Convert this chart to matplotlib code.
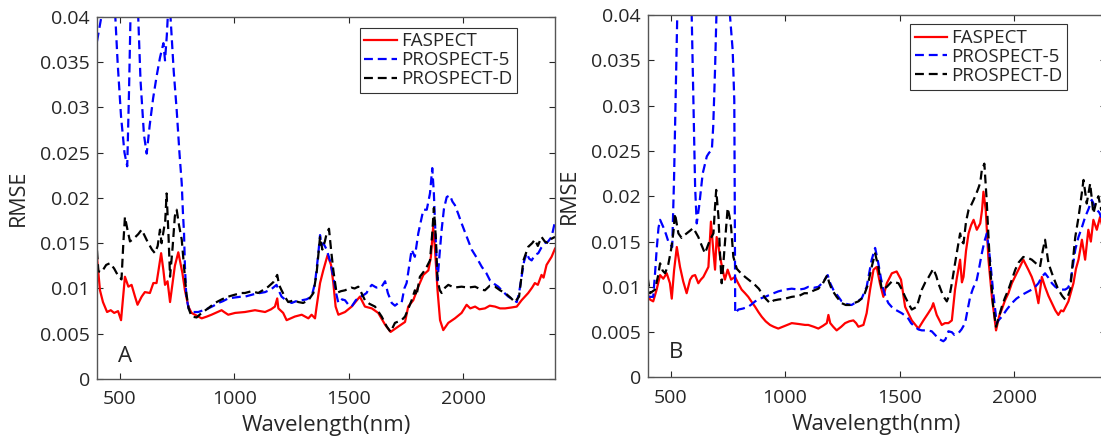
import matplotlib
matplotlib.use("Agg")
import matplotlib.pyplot as plt

plt.rcParams['font.family'] = ['Open Sans', 'DejaVu Sans']

# ---- panel A data (wavelength nm, RMSE) ----
a_fas_wl = [400, 413, 426, 444, 460, 475, 492, 505, 522, 537, 551, 566, 577, 595, 609, 631, 646, 660, 668, 680,
            690, 697, 708, 719, 740, 755, 773, 784, 799, 813, 828, 857, 880, 900, 944, 955, 973, 1003, 1046, 1090,
            1134, 1160, 1177, 1187, 1192, 1213, 1228, 1264, 1294, 1323, 1337, 1352, 1359, 1374, 1388, 1407, 1422,
            1432, 1442, 1454, 1483, 1512, 1548, 1570, 1600, 1628, 1658, 1682, 1716, 1745, 1759, 1781, 1803, 1825,
            1847, 1858, 1868, 1876, 1887, 1898, 1912, 1934, 1963, 1992, 2014, 2030, 2051, 2070, 2094, 2115, 2138,
            2160, 2182, 2210, 2233, 2254, 2283, 2300, 2312, 2325, 2341, 2350, 2363, 2385, 2400]
a_fas = [.0134, .0098, .0085, .0074, .0076, .0073, .0075, .0065, .0113, .0102, .0104, .0091, .0082, .0091, .0096,
         .0095, .0106, .0106, .0119, .0139, .012, .0104, .0108, .0085, .0125, .014, .0117, .0098, .008, .0073,
         .0071, .0067, .0069, .0071, .0076, .0074, .0071, .0073, .0074, .0076, .0074, .0077, .008, .0089, .0078,
         .0073, .0065, .0069, .0071, .0067, .0071, .0067, .008, .0106, .012, .0137, .0126, .0106, .008, .0071,
         .0074, .008, .0091, .008, .0078, .0073, .006, .0052, .0058, .0063, .008, .0087, .0102, .0115, .012,
         .0135, .0168, .0143, .0098, .0065, .0054, .0062, .0067, .0073, .0082, .0078, .008, .0077, .0078, .0081,
         .008, .0078, .0078, .0079, .008, .0087, .0095, .0101, .0106, .0104, .0115, .0112, .0126, .0135, .0144]

a_p5_wl = [400, 412, 426, 440, 460, 478, 490, 505, 520, 532, 540, 547, 560, 575, 580, 590, 605, 617, 630, 645,
           660, 675, 690, 697, 705, 711, 716, 721, 735, 748, 760, 770, 775, 780, 784, 790, 800, 813, 842, 865,
           886, 910, 930, 950, 973, 1000, 1031, 1046, 1090, 1134, 1160, 1184, 1195, 1206, 1225, 1250, 1270, 1294,
           1315, 1337, 1352, 1365, 1374, 1380, 1388, 1403, 1417, 1432, 1444, 1454, 1470, 1483, 1498, 1512, 1530,
           1548, 1560, 1577, 1590, 1600, 1620, 1643, 1658, 1670, 1687, 1701, 1716, 1730, 1742, 1752, 1765, 1774,
           1788, 1803, 1815, 1825, 1840, 1854, 1864, 1871, 1879, 1887, 1895, 1905, 1915, 1927, 1941, 1952, 1963,
           1978, 1992, 2010, 2036, 2058, 2080, 2100, 2116, 2135, 2152, 2175, 2196, 2215, 2233, 2243, 2254, 2265,
           2276, 2287, 2298, 2312, 2327, 2340, 2356, 2370, 2385, 2400]
a_p5 = [.0373, .039, .041, .045, .045, .041, .035, .029, .025, .0235, .032, .041, .046, .044, .04, .033, .027,
        .0249, .028, .031, .0334, .0355, .0371, .0352, .038, .041, .042, .04, .034, .0297, .025, .0216, .0185,
        .0161, .0124, .0091, .0078, .0074, .0074, .0076, .0078, .0081, .0084, .0086, .0089, .009, .0091, .0091,
        .0094, .0096, .0099, .0104, .0097, .0091, .0087, .0084, .0086, .0087, .0088, .0091, .0106, .0135, .0159,
        .0148, .015, .0143, .0131, .0113, .0095, .0084, .0088, .0087, .0082, .008, .0087, .0091, .0092, .0095,
        .0101, .0104, .0101, .0102, .0108, .0095, .0084, .0081, .0084, .0084, .01, .0106, .0128, .0143, .0135,
        .0161, .0175, .0187, .0187, .0205, .0233, .0205, .0154, .0109, .0135, .0165, .0188, .0201, .0203, .0196,
        .0192, .0182, .0172, .016, .0143, .0134, .0124, .0117, .0109, .0105, .0102, .0096, .0091, .0088, .0085,
        .0095, .0113, .013, .0139, .0133, .0131, .0137, .0139, .0145, .015, .0152, .0157, .0174]

a_pd_wl = [400, 406, 420, 440, 457, 475, 490, 507, 515, 522, 533, 544, 560, 580, 595, 620, 640, 653, 665, 675,
           682, 689, 698, 704, 712, 719, 730, 740, 748, 758, 770, 780, 790, 800, 813, 835, 857, 885, 915, 945,
           973, 1000, 1031, 1046, 1075, 1104, 1130, 1148, 1170, 1187, 1195, 1206, 1220, 1235, 1260, 1279, 1300,
           1323, 1345, 1359, 1374, 1384, 1395, 1403, 1413, 1422, 1432, 1446, 1465, 1483, 1510, 1525, 1541, 1555,
           1570, 1590, 1614, 1643, 1665, 1682, 1701, 1730, 1745, 1760, 1774, 1788, 1795, 1810, 1825, 1840, 1854,
           1864, 1871, 1880, 1887, 1897, 1905, 1920, 1934, 1960, 1992, 2020, 2051, 2075, 2094, 2115, 2138, 2160,
           2182, 2205, 2225, 2243, 2262, 2283, 2300, 2312, 2325, 2341, 2355, 2370, 2385, 2400]
a_pd = [.0142, .0119, .0118, .0126, .0128, .0122, .0115, .011, .015, .0179, .0165, .0152, .0155, .016, .0165,
        .0152, .0143, .0139, .0147, .0165, .015, .0161, .0175, .0205, .016, .0113, .0145, .018, .0187, .017,
        .0154, .0124, .0095, .0078, .0069, .0068, .0073, .0078, .0084, .0088, .0091, .0093, .0095, .0095, .0097,
        .0095, .0099, .0102, .0107, .0115, .0104, .0098, .0091, .0085, .0087, .0085, .0084, .0087, .0095, .0117,
        .0157, .0143, .0152, .0161, .0166, .0143, .012, .0095, .0097, .0098, .0101, .01, .0102, .0095, .0087,
        .0083, .008, .0069, .0058, .0052, .0062, .0065, .0069, .0078, .0087, .0098, .0092, .0113, .0118, .0124,
        .0131, .0161, .0189, .0154, .0109, .0098, .0095, .0101, .0104, .0101, .0102, .0101, .0102, .0099, .0098,
        .0103, .0102, .0098, .0095, .009, .0085, .0091, .0131, .0146, .015, .0154, .0147, .0157, .0152, .015,
        .0155, .0157]

# ---- panel B data ----
b_fas_wl = [400, 410, 424, 439, 454, 468, 483, 497, 505, 515, 527, 541, 555, 570, 585, 595, 607, 621, 632, 643,
            655, 665, 676, 686, 694, 701, 709, 716, 726, 737, 749, 764, 781, 795, 810, 825, 839, 855, 869, 884,
            898, 915, 934, 950, 970, 1000, 1029, 1060, 1087, 1101, 1125, 1145, 1165, 1182, 1189, 1197, 1210, 1225,
            1245, 1262, 1280, 1298, 1310, 1320, 1342, 1356, 1371, 1386, 1400, 1414, 1429, 1444, 1466, 1487, 1506,
            1524, 1553, 1582, 1604, 1625, 1640, 1647, 1655, 1662, 1684, 1698, 1713, 1728, 1742, 1750, 1764, 1772,
            1779, 1790, 1801, 1812, 1823, 1837, 1852, 1860, 1866, 1876, 1888, 1903, 1921, 1935, 1946, 1960, 1975,
            1990, 2011, 2025, 2040, 2050, 2062, 2077, 2092, 2106, 2121, 2135, 2150, 2165, 2180, 2193, 2205, 2215,
            2237, 2259, 2270, 2281, 2296, 2310, 2324, 2335, 2346, 2361, 2375, 2390, 2400]
b_fas = [.0092, .0086, .0084, .0097, .0113, .0109, .0115, .0104, .0087, .0118, .0144, .0122, .0106, .0093, .0108,
         .0112, .0113, .0104, .0108, .0111, .0117, .0122, .0172, .0141, .0119, .0155, .0145, .0133, .012, .0108,
         .0119, .0108, .0111, .0104, .0097, .0093, .0089, .0083, .0078, .0072, .0067, .0062, .0058, .0056, .0054,
         .0057, .006, .0059, .0058, .0058, .0056, .0054, .0057, .006, .0069, .006, .0056, .0052, .0056, .006,
         .0062, .0063, .006, .0056, .0058, .0071, .0097, .0119, .0122, .0104, .0089, .0104, .0115, .0117, .0108,
         .0078, .0063, .0054, .0063, .0071, .0077, .0082, .0075, .0069, .0058, .006, .006, .0063, .0097, .011,
         .013, .0105, .0111, .014, .0159, .0168, .0174, .0163, .017, .0185, .0205, .0185, .013, .0089, .0052,
         .0068, .0075, .0085, .0093, .0104, .0115, .0122, .013, .0125, .0119, .0111, .01, .0082, .0111, .01,
         .009, .0082, .0074, .0069, .0074, .0073, .0084, .0104, .012, .013, .0152, .013, .0163, .015, .0174,
         .0163, .0177, .0162, .0172]

b_p5_wl = [400, 410, 424, 432, 439, 447, 454, 468, 480, 490, 507, 515, 525, 533, 560, 585, 592, 600, 607, 614,
           625, 640, 658, 668, 680, 686, 694, 701, 720, 750, 759, 771, 778, 780, 781, 782, 796, 815, 839, 855,
           869, 890, 913, 940, 970, 1000, 1029, 1060, 1084, 1101, 1125, 1145, 1165, 1186, 1197, 1210, 1230, 1247,
           1270, 1290, 1310, 1334, 1356, 1367, 1378, 1393, 1407, 1418, 1429, 1440, 1451, 1465, 1480, 1495, 1509,
           1525, 1538, 1550, 1567, 1582, 1597, 1620, 1640, 1655, 1669, 1683, 1691, 1700, 1713, 1728, 1739, 1757,
           1770, 1786, 1797, 1808, 1820, 1837, 1848, 1859, 1870, 1881, 1888, 1895, 1909, 1924, 1935, 1946, 1968,
           1990, 2010, 2033, 2055, 2077, 2092, 2106, 2121, 2135, 2150, 2165, 2180, 2193, 2208, 2223, 2235, 2245,
           2256, 2267, 2281, 2295, 2310, 2325, 2339, 2350, 2361, 2372, 2380, 2390, 2400]
b_p5 = [.0089, .0089, .0089, .0115, .0141, .0165, .0174, .0166, .0158, .015, .0144, .022, .035, .045, .05, .045,
        .04, .03, .021, .017, .019, .0225, .0244, .0248, .0251, .0277, .034, .041, .05, .046, .04, .0361, .0306,
        .02, .0118, .0071, .0075, .0076, .0078, .0081, .0084, .0087, .0089, .0092, .0095, .0097, .0098, .0097,
        .0098, .01, .0099, .01, .0105, .0113, .0104, .0097, .009, .0084, .0081, .008, .0083, .0087, .01, .0115,
        .013, .0143, .0126, .011, .0097, .0088, .0082, .0078, .0075, .0073, .0071, .0068, .0065, .006, .0056,
        .0053, .0052, .0052, .0051, .0047, .0043, .0041, .004, .0042, .0051, .005, .0047, .0049, .0053, .006,
        .0075, .0089, .0098, .0108, .0122, .0137, .015, .0159, .0145, .013, .0093, .006, .0064, .0067, .0075,
        .0082, .0087, .0091, .0094, .0097, .01, .0104, .0111, .0115, .011, .0104, .01, .0098, .0097, .0097,
        .0099, .0104, .0122, .0141, .0155, .0165, .0177, .0186, .0196, .019, .0185, .0182, .0177, .019, .0185]

b_pd_wl = [400, 410, 432, 445, 454, 465, 476, 490, 502, 512, 519, 534, 548, 560, 570, 585, 599, 610, 621, 635,
           650, 662, 672, 687, 693, 699, 709, 716, 723, 730, 737, 749, 757, 764, 774, 789, 807, 825, 845, 869,
           885, 898, 915, 934, 950, 970, 1000, 1029, 1060, 1084, 1101, 1125, 1145, 1165, 1184, 1192, 1204, 1225,
           1247, 1265, 1284, 1300, 1320, 1342, 1361, 1378, 1393, 1407, 1422, 1444, 1466, 1480, 1495, 1510, 1524,
           1540, 1553, 1575, 1597, 1612, 1625, 1647, 1660, 1669, 1690, 1706, 1720, 1728, 1742, 1764, 1772, 1779,
           1790, 1801, 1812, 1823, 1835, 1844, 1852, 1859, 1870, 1880, 1887, 1895, 1908, 1921, 1935, 1946, 1960,
           1975, 1990, 2005, 2020, 2040, 2060, 2077, 2095, 2113, 2125, 2135, 2150, 2165, 2180, 2193, 2210, 2223,
           2235, 2245, 2255, 2267, 2280, 2288, 2303, 2317, 2332, 2346, 2360, 2368, 2380, 2390, 2400]
b_pd = [.011, .0093, .0097, .0112, .0126, .0118, .0115, .0125, .0141, .016, .0181, .0159, .0154, .0157, .0159,
        .0162, .0165, .016, .0155, .0146, .0137, .0145, .0152, .0159, .0185, .0207, .0177, .0135, .0104, .0125,
        .0148, .0187, .0178, .0166, .0133, .012, .0115, .0111, .0107, .0102, .0098, .0093, .0087, .0082, .0085,
        .0086, .0087, .0089, .009, .0093, .0093, .0096, .0098, .0104, .0113, .0105, .0097, .0089, .0082, .008,
        .008, .0082, .0084, .0089, .0102, .0122, .0137, .0122, .0097, .01, .0106, .0105, .0104, .0097, .0089,
        .0081, .0075, .0078, .0097, .0105, .011, .012, .0112, .0104, .009, .0084, .0093, .0104, .0126, .0159,
        .015, .0148, .0172, .0185, .019, .0196, .0203, .0209, .0215, .0229, .0236, .0196, .016, .0122, .008,
        .0056, .0068, .0078, .0088, .0097, .0108, .0119, .0127, .0133, .0132, .013, .0126, .0122, .014, .0152,
        .0126, .0115, .0105, .0097, .009, .0086, .009, .0097, .0125, .0155, .0175, .0189, .0218, .0192, .0214,
        .0181, .0195, .02, .0185, .0195, .019]

labels = ["FASPECT", "PROSPECT-5", "PROSPECT-D"]
yticks = [0, 0.005, 0.01, 0.015, 0.02, 0.025, 0.03, 0.035, 0.04]
yticklabels = ["0", "0.005", "0.01", "0.015", "0.02", "0.025", "0.03", "0.035", "0.04"]
xticks = [500, 1000, 1500, 2000]

txt = '#262626'
fig = plt.figure(figsize=(11.01, 4.41), dpi=100)
axA = fig.add_axes([0.0881, 0.1406, 0.416, 0.821])
axB = fig.add_axes([0.5883, 0.144, 0.416, 0.822])

panels = [
    (axA, "A", (a_fas_wl, a_fas), (a_p5_wl, a_p5), (a_pd_wl, a_pd), (0.917, 0.970), (0.061, 0.061)),
    (axB, "B", (b_fas_wl, b_fas), (b_p5_wl, b_p5), (b_pd_wl, b_pd), (0.9155, 0.974), (0.062, 0.070)),
]

for ax, tag, fas, p5, pd, leg_anchor, tag_pos in panels:
    ax.plot(fas[0], fas[1], color='#ff0000', lw=1.6, ls='-', label=labels[0])
    ax.plot(p5[0], p5[1], color='#0000ff', lw=1.6, ls=(0, (4, 2.2)), label=labels[1])
    ax.plot(pd[0], pd[1], color='black', lw=1.6, ls=(0, (4, 2.2)), label=labels[2])
    ax.set_xlim(400, 2400)
    ax.set_ylim(0, 0.04)
    ax.set_xticks(xticks)
    ax.set_yticks(yticks)
    ax.set_yticklabels(yticklabels)
    ax.tick_params(direction='in', length=4.5, width=0.8, top=True, right=True,
                   labelsize=14, colors=txt, pad=5)
    ax.tick_params(axis='x', pad=8)
    for s in ax.spines.values():
        s.set_color('#555555')
        s.set_linewidth(1.0)
    ax.set_xlabel("Wavelength(nm)", fontsize=16, color=txt)
    ax.set_ylabel("RMSE", fontsize=15.5, color=txt)
    ax.xaxis.set_label_coords(0.5, -0.1)
    ax.yaxis.set_label_coords(-0.148, 0.5)
    ax.text(tag_pos[0], tag_pos[1], tag, transform=ax.transAxes, fontsize=16, color=txt,
            ha='center', va='center')
    leg = ax.legend(loc='upper right', bbox_to_anchor=leg_anchor, fontsize=13.5, frameon=True,
                    fancybox=False, edgecolor='black', borderaxespad=0, borderpad=0.25,
                    handlelength=1.75, handletextpad=0.2, labelspacing=0.05)
    leg.get_frame().set_linewidth(0.8)
    for t in leg.get_texts():
        t.set_color(txt)

fig.savefig("out.png", dpi=100)
